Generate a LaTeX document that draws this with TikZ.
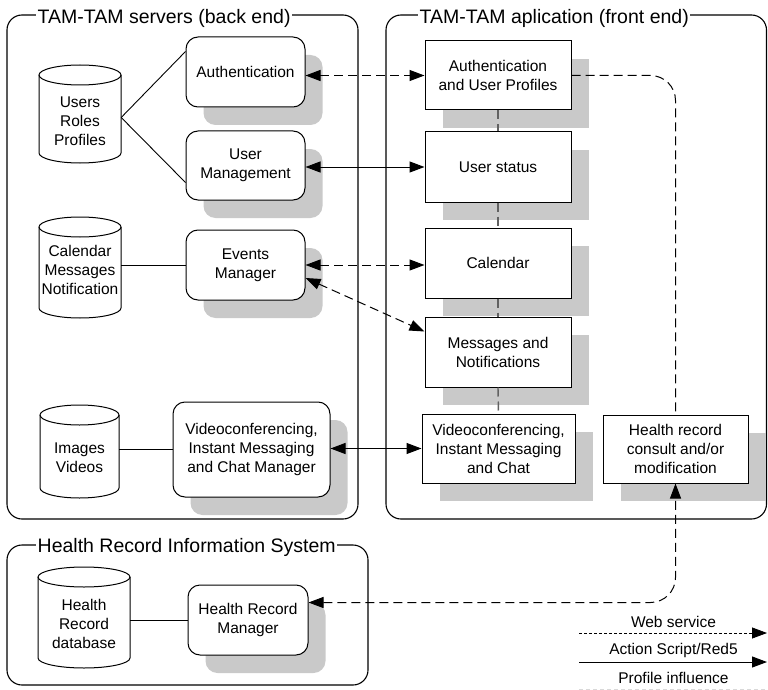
\documentclass[tikz,border=0pt]{standalone}
\usepackage{fontspec}
\setmainfont{Liberation Sans}
\usetikzlibrary{arrows.meta,shadows,calc}

\definecolor{shadefill}{gray}{0.79}
\definecolor{influence}{gray}{0.38}
\definecolor{faint}{gray}{0.85}

% database drum: left x, top y, right x, bottom y
\newcommand\drum[4]{%
  \draw[line width=1pt] (#1,#2+10) -- (#1,#4-10)
     arc[start angle=180,end angle=360,x radius={(#3-#1)/2*1pt},y radius=10pt]
     -- (#3,#2+10);
  \draw[line width=1pt] ({(#1+#3)/2},#2+10) ellipse[x radius={(#3-#1)/2*1pt},y radius=10pt];}

\begin{document}
\begin{tikzpicture}[x=1pt,y=-1pt,
  font=\fontsize{15.5}{19}\selectfont,
  every node/.style={align=center,inner sep=0pt},
  group/.style={draw,line width=1.1pt,rounded corners=15pt},
  grouptitle/.style={anchor=base west,fill=white,inner xsep=1.5pt,inner ysep=2pt,
    font=\fontsize{19.5}{22}\selectfont},
  boxshadow/.style={drop shadow={shadow xshift=17.5pt,shadow yshift=-18pt,
    fill=shadefill,opacity=1}},
  srv/.style={draw,fill=white,line width=1pt,rounded corners=12pt,boxshadow},
  app/.style={draw,fill=white,line width=1pt,boxshadow},
  tipend/.style={-{Triangle[length=15pt,width=11pt]}},
  twotips/.style={{Triangle[length=15pt,width=11pt]}-{Triangle[length=15pt,width=11pt]}},
  websvc/.style={line width=1pt,dash pattern=on 9pt off 5pt},
  redfive/.style={line width=1pt},
  profile/.style={draw=influence,line width=1.4pt,dash pattern=on 9pt off 5pt},
]
\useasboundingbox (0,0) rectangle (768,690);

% ---------- containers ----------
\draw[group] (7,15) rectangle (358,519);
\draw[group] (386,15) rectangle (766.5,519);
\draw[group] (7,545) rectangle (368,685);
\node[grouptitle] (tback) at (36,24) {TAM-TAM servers (back end)};
\node[grouptitle] (tfront) at (418,24) {TAM-TAM aplication (front end)};
\node[grouptitle] (thris) at (36,552) {Health Record Information System};

% ---------- databases ----------
\drum{39}{65}{121}{163}
\node[minimum width=82pt] (db1) at (80,121.5) {Users\\Roles\\Profiles};
\drum{39}{217}{121}{318}
\node[minimum width=82pt] (db2) at (80,270) {Calendar\\Messages\\Notification};
\drum{40}{405}{119}{498}
\node[minimum width=79pt] (db3) at (79.5,457.5) {Images\\Videos};
\drum{38}{567}{130}{668}
\node[minimum width=92pt] (db4) at (84,623.5) {Health\\Record\\database};

% ---------- back end services ----------
\node[srv,minimum width=119pt,minimum height=70pt] (auth) at (245.5,72) {Authentication};
\node[srv,minimum width=119pt,minimum height=69pt] (um) at (245.5,165.5) {User\\Management};
\node[srv,minimum width=119pt,minimum height=70pt] (ev) at (245.5,265) {Events\\Manager};
\node[srv,minimum width=157pt,minimum height=95pt] (vcm) at (251.5,449.5)
  {Videoconferencing,\\Instant Messaging\\and Chat Manager};
\node[srv,minimum width=120pt,minimum height=70pt] (hrm) at (248,620) {Health Record\\Manager};

% ---------- front end modules ----------
\node[app,minimum width=146pt,minimum height=69pt] (authup) at (498,75.5) {Authentication\\and User Profiles};
\node[app,minimum width=146pt,minimum height=70pt] (ustat) at (498,167) {User status};
\node[app,minimum width=146pt,minimum height=70pt] (cal) at (498,263) {Calendar};
\node[app,minimum width=146pt,minimum height=70pt] (mn) at (498,352) {Messages and\\Notifications};
\node[app,minimum width=153pt,minimum height=69pt] (vcf) at (498.5,448.5)
  {Videoconferencing,\\Instant Messaging\\and Chat};
\node[app,minimum width=145pt,minimum height=68pt] (hr) at (675.5,449)
  {Health record\\consult and/or\\modification};

% ---------- database links ----------
\draw[line width=0.9pt] ($(db1.east)+(0,-4)$) -- ($(auth.north west)+(0,15)$);
\draw[line width=0.9pt] ($(db1.east)+(0,-4)$) -- ($(um.south west)+(0,-18)$);
\draw[line width=0.9pt] (ev.west -| db2.east) -- (ev.west);
\draw[line width=0.9pt] (vcm.west -| db3.east) -- (vcm.west);
\draw[line width=0.9pt] (hrm.west -| db4.east) -- (hrm.west);

% ---------- profile influence inside the application ----------
\draw[profile] (authup.south) -- (ustat.north);
\draw[profile] (ustat.south) -- (cal.north);
\draw[profile] (cal.south) -- (mn.north);
\draw[profile] (mn.south) -- (vcf.north);
\draw[websvc,rounded corners=25pt] (authup.east) -| (hr.north);

% ---------- back end <-> front end ----------
\draw[websvc,twotips] (auth.east |- authup.west) -- (authup.west);
\draw[redfive,twotips] (um.east |- ustat.west) -- (ustat.west);
\draw[websvc,twotips] (ev.east) -- (ev.east -| cal.west);
\draw[websvc,twotips] ($(ev.east)+(0,13)$) -- ($(mn.north west)+(0,15)$);
\draw[redfive,twotips] (vcm.east |- vcf.west) -- (vcf.west);
\coordinate (hrmin) at ($(hrm.north east)+(0,18)$);
\draw[websvc,twotips,rounded corners=25pt] (hrmin) -| (hr.south);

% ---------- legend ----------
\node (lgws) at (673.5,622) {Web service};
\coordinate (lgwsA) at (579,633);
\coordinate (lgwsB) at (767,633);
\draw[line width=0.8pt,dash pattern=on 3pt off 2pt,tipend] (lgwsA) -- (lgwsB);
\node (lgas) at (673.5,650) {Action Script/Red5};
\coordinate (lgasA) at (579,662);
\coordinate (lgasB) at (767,662);
\draw[redfive,tipend] (lgasA) -- (lgasB);
\node (lgpi) at (673.5,678) {Profile influence};
\coordinate (lgpiA) at (579,689);
\coordinate (lgpiB) at (768,689);
\draw[draw=faint,line width=1pt,dash pattern=on 4pt off 3pt] (lgpiA) -- (lgpiB);
\end{tikzpicture}
\end{document}
